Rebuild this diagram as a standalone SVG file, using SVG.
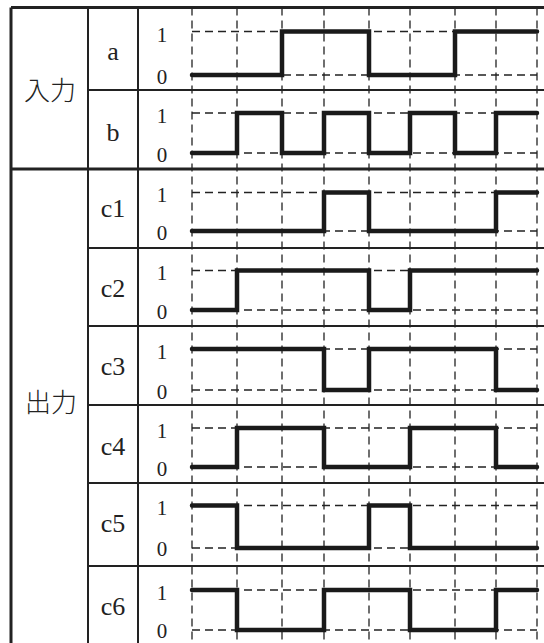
<svg xmlns="http://www.w3.org/2000/svg" width="544" height="643" viewBox="0 0 544 643">
<style>
.bg{fill:#ffffff}
.grid{stroke:#222;stroke-width:1.3;stroke-dasharray:8 5;fill:none}
.rule{stroke:#222;stroke-width:2;fill:none}
.thick{stroke:#222;stroke-width:3;fill:none}
.wave{stroke:#1a1a1a;stroke-width:4.5;fill:none;stroke-linecap:round;stroke-linejoin:miter}
.lvl{font-family:"Liberation Serif","Times New Roman",serif;font-size:21px;fill:#222;text-anchor:middle}
.sig{font-family:"Liberation Serif","Times New Roman",serif;font-size:26px;fill:#222;text-anchor:middle}
.grp{font-family:"Noto Sans CJK JP","Noto Sans CJK SC",sans-serif;font-size:26px;font-weight:300;fill:#222;text-anchor:middle}
</style>
<rect class="bg" x="0" y="0" width="544" height="643"/>

<g id="grid">
<path class="grid" d="M192,7.5V643 M237,7.5V643 M282,7.5V643 M324,7.5V643 M369,7.5V643 M410,7.5V643 M455,7.5V643 M496,7.5V643 M537,7.5V643"/>
<path class="grid" d="M192,31.5H537 M192,75H537 M192,113H537 M192,153H537 M192,192.5H537 M192,231H537 M192,270.5H537 M192,310H537 M192,349H537 M192,390H537 M192,428H537 M192,467H537 M192,505.5H537 M192,548H537 M192,590H537 M192,630H537"/>
</g>

<g id="table">
<path class="thick" d="M11,7.5H544 M11,7.5V643 M11,169H544"/>
<path class="rule" d="M88,7.5V643 M138,7.5V643 M88,90H544 M88,248H544 M88,326H544 M88,405H544 M88,483H544 M88,566H544"/>
</g>

<g id="group-input"><text class="grp" x="50" y="100">入力</text></g>
<g id="group-output"><text class="grp" x="51" y="412">出力</text></g>

<g id="row-a">
<text class="sig" x="113" y="60">a</text>
<text class="lvl" x="162" y="41.5">1</text><text class="lvl" x="162" y="84">0</text>
<path class="wave" d="M192,75H282V31.5H369V75H455V31.5H537"/>
</g>
<g id="row-b">
<text class="sig" x="113" y="141">b</text>
<text class="lvl" x="162" y="122.5">1</text><text class="lvl" x="162" y="162">0</text>
<path class="wave" d="M192,153H237V113H282V153H324V113H369V153H410V113H455V153H496V113H537"/>
</g>
<g id="row-c1">
<text class="sig" x="113" y="217">c1</text>
<text class="lvl" x="162" y="202">1</text><text class="lvl" x="162" y="240">0</text>
<path class="wave" d="M192,231H324V192.5H369V231H496V192.5H537"/>
</g>
<g id="row-c2">
<text class="sig" x="113" y="297">c2</text>
<text class="lvl" x="162" y="280">1</text><text class="lvl" x="162" y="319">0</text>
<path class="wave" d="M192,310H237V270.5H369V310H410V270.5H537"/>
</g>
<g id="row-c3">
<text class="sig" x="113" y="375">c3</text>
<text class="lvl" x="162" y="358.5">1</text><text class="lvl" x="162" y="399">0</text>
<path class="wave" d="M192,349H324V390H369V349H496V390H537"/>
</g>
<g id="row-c4">
<text class="sig" x="113" y="455">c4</text>
<text class="lvl" x="162" y="437.5">1</text><text class="lvl" x="162" y="476">0</text>
<path class="wave" d="M192,467H237V428H324V467H410V428H496V467H537"/>
</g>
<g id="row-c5">
<text class="sig" x="113" y="531.5">c5</text>
<text class="lvl" x="162" y="515">1</text><text class="lvl" x="162" y="556">0</text>
<path class="wave" d="M192,505.5H237V548H369V505.5H410V548H537"/>
</g>
<g id="row-c6">
<text class="sig" x="113" y="615">c6</text>
<text class="lvl" x="162" y="599.5">1</text><text class="lvl" x="162" y="638">0</text>
<path class="wave" d="M192,590H237V630H324V590H410V630H496V590H537"/>
</g>
</svg>
